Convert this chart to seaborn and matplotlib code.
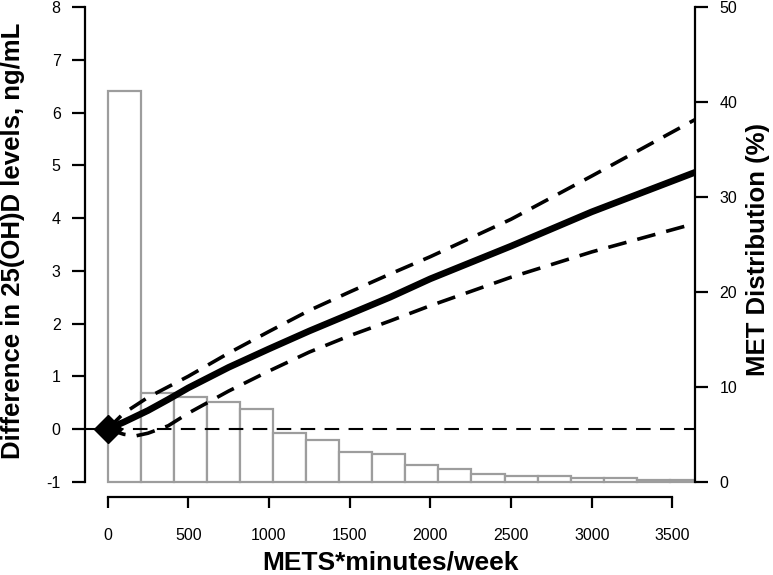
import pandas as pd
import matplotlib
matplotlib.use("Agg")
import matplotlib.pyplot as plt
import seaborn as sns

# values
met_x = [0, 100, 175, 250, 375, 500, 750, 1000, 1250, 1500, 1750, 2000, 2500, 3000, 3640]
diff_est = [0, 0.13, 0.24, 0.35, 0.56, 0.78, 1.17, 1.52, 1.86, 2.18, 2.50, 2.85, 3.47, 4.12, 4.87]
diff_upper = [0, 0.30, 0.45, 0.60, 0.80, 1.00, 1.44, 1.85, 2.25, 2.60, 2.94, 3.27, 3.98, 4.80, 5.87]
diff_lower = [0, -0.10, -0.13, -0.08, 0.06, 0.30, 0.72, 1.10, 1.46, 1.77, 2.05, 2.34, 2.88, 3.36, 3.90]

bin_edges = [0, 205, 410, 615, 820, 1025, 1230, 1435, 1640, 1845, 2050, 2255,
             2460, 2665, 2870, 3075, 3280, 3485, 3690]
met_pct = [41.2, 9.4, 8.9, 8.4, 7.7, 5.1, 4.4, 3.1, 2.9, 1.75, 1.3, 0.8,
           0.6, 0.6, 0.4, 0.34, 0.2, 0.13]

x_ticks = [0, 500, 1000, 1500, 2000, 2500, 3000, 3500]
y_ticks = [-1, 0, 1, 2, 3, 4, 5, 6, 7, 8]
pct_ticks = [0, 10, 20, 30, 40, 50]

curves = pd.DataFrame({"met": met_x, "est": diff_est, "upper": diff_upper, "lower": diff_lower})
bins = pd.DataFrame({"mid": [(a + b) / 2 for a, b in zip(bin_edges[:-1], bin_edges[1:])],
                     "pct": met_pct})

sns.set_style("white")
plt.rcParams["font.family"] = ["Liberation Sans", "DejaVu Sans"]
plt.rcParams["axes.unicode_minus"] = False
plt.rcParams["text.color"] = "black"
plt.rcParams["axes.labelcolor"] = "black"
plt.rcParams["xtick.color"] = "black"
plt.rcParams["ytick.color"] = "black"

fig = plt.figure(figsize=(7.73, 5.75), dpi=100)
ax = fig.add_axes([85 / 773, 78 / 575, 610 / 773, 497 / 575])
ax2 = ax.twinx()

# histogram of MET distribution on the right axis (behind the curves)
sns.histplot(data=bins, x="mid", weights="pct", bins=bin_edges, ax=ax2,
             color="white", edgecolor="#9d9d9d", linewidth=1.6, alpha=1)

ax.set_zorder(ax2.get_zorder() + 1)
ax.patch.set_visible(False)

ax.axhline(0, color="black", lw=1.5, ls=(0, (7, 4.5)))
dash = (0, (5.2, 3.1))
sns.lineplot(data=curves, x="met", y="upper", ax=ax, color="black", lw=2.6, ls=dash)
sns.lineplot(data=curves, x="met", y="lower", ax=ax, color="black", lw=2.6, ls=dash)
sns.lineplot(data=curves, x="met", y="est", ax=ax, color="black", lw=4.8)
ax.plot([0], [0], marker="D", ms=14, color="black", clip_on=False)

ax.set_xlim(-140, 3640)
ax.set_ylim(-1.29, 8.14)
ax2.set_ylim((-1.29 + 1) * 50 / 9, (8.14 + 1) * 50 / 9)

ax.set_xticks(x_ticks)
ax.set_yticks(y_ticks)
ax2.set_yticks(pct_ticks)

for a in (ax, ax2):
    for s in a.spines.values():
        s.set_linewidth(1.6)
        s.set_color("black")
    a.spines["top"].set_visible(False)
ax.spines["right"].set_visible(False)
ax2.spines["left"].set_visible(False)
ax2.spines["bottom"].set_visible(False)
ax.spines["left"].set_bounds(-1, 8)
ax.spines["bottom"].set_bounds(0, 3500)
ax2.spines["right"].set_bounds(0, 50)

ax.tick_params(axis="y", left=True, length=9.5, width=1.6, pad=8, labelsize=11.5)
ax.tick_params(axis="x", bottom=True, length=8, width=1.6, pad=14, labelsize=11.5)
ax2.tick_params(axis="y", right=True, length=9.5, width=1.6, pad=8, labelsize=11.5)
ax.grid(False)
ax2.grid(False)

ax.set_xlabel("METS*minutes/week", fontsize=19, fontweight="bold", va="top")
ax.set_ylabel("Difference in 25(OH)D levels, ng/mL", fontsize=18.5, fontweight="bold", va="center")
ax2.set_ylabel("MET Distribution (%)", fontsize=18.5, fontweight="bold", va="center")
ax.xaxis.set_label_coords(0.5, -0.108)
ax.yaxis.set_label_coords(-0.118, 0.515)
ax2.yaxis.set_label_coords(1.103, 0.497)

fig.savefig("out.png", dpi=100)
